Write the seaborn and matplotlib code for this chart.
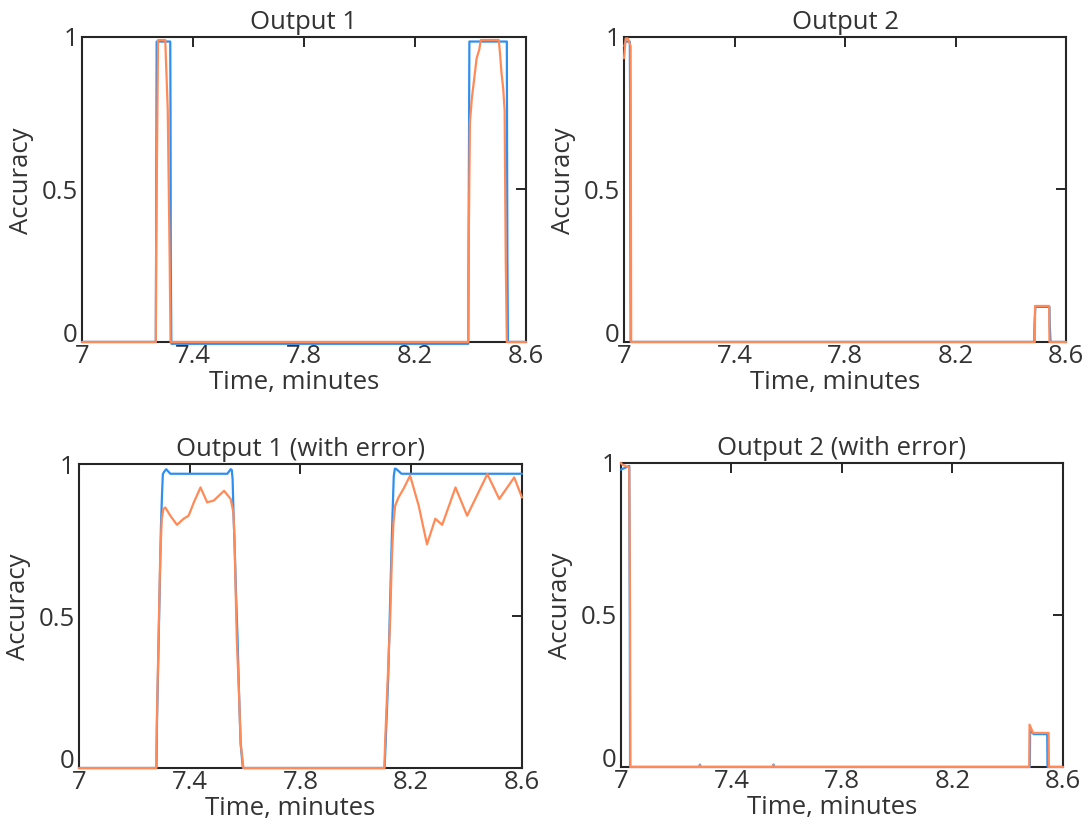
import numpy as np
import pandas as pd
import matplotlib
matplotlib.use("Agg")
import matplotlib.pyplot as plt
import seaborn as sns

# ---------------- data ----------------
titles = ["Output 1", "Output 2", "Output 1 (with error)", "Output 2 (with error)"]
xticks = [7, 7.4, 7.8, 8.2, 8.6]
xticklabels = ["7", "7.4", "7.8", "8.2", "8.6"]
yticks = [0, 0.5, 1]
yticklabels = ["0", "0.5", "1"]
xlabel = "Time, minutes"
ylabel = "Accuracy"

# Panel 1: Output 1
p1_blue_t = [7.000, 7.266, 7.267, 7.269, 7.318, 7.319, 7.320, 7.322, 8.392, 8.393, 8.396,
             8.531, 8.532, 8.533, 8.535, 8.600]
p1_blue_y = [0.000, 0.000, 0.280, 0.985, 0.985, 0.760, 0.270, -0.006, -0.006, 0.270, 0.985,
             0.985, 0.590, 0.270, 0.000, 0.000]
p1_orange_t = [7.000, 7.266, 7.267, 7.274, 7.300, 7.309, 7.316, 7.319, 8.392, 8.393, 8.398,
               8.405, 8.413, 8.422, 8.432, 8.437, 8.502, 8.506, 8.512, 8.518, 8.523, 8.527,
               8.531, 8.600]
p1_orange_y = [0.000, 0.000, 0.280, 0.990, 0.990, 0.760, 0.270, 0.000, 0.000, 0.270, 0.720,
               0.800, 0.860, 0.930, 0.960, 0.990, 0.990, 0.950, 0.880, 0.830, 0.760, 0.270,
               0.000, 0.000]

# Panel 2: Output 2
p2_blue_t = [7.000, 7.006, 7.021, 7.022, 7.024, 8.485, 8.486, 8.489, 8.540, 8.541, 8.544, 8.600]
p2_blue_y = [0.970, 0.985, 0.985, 0.820, 0.000, 0.000, 0.060, 0.115, 0.115, 0.055, 0.000, 0.000]
p2_orange_t = [7.000, 7.006, 7.014, 7.024, 7.026, 8.487, 8.488, 8.539, 8.540, 8.600]
p2_orange_y = [0.930, 0.995, 0.995, 0.970, 0.000, 0.000, 0.118, 0.118, 0.000, 0.000]

# Panel 3: Output 1 (with error)
p3_blue_t = [7.000, 7.280, 7.282, 7.289, 7.296, 7.300, 7.303, 7.308, 7.315, 7.330, 7.536,
             7.548, 7.552, 7.555, 7.558, 7.562, 7.567, 7.573, 7.578, 7.584, 7.592, 8.104,
             8.108, 8.117, 8.124, 8.128, 8.132, 8.137, 8.141, 8.147, 8.165, 8.600]
p3_blue_y = [0.000, 0.000, 0.160, 0.470, 0.790, 0.900, 0.967, 0.975, 0.983, 0.968, 0.968,
             0.983, 0.980, 0.950, 0.845, 0.740, 0.580, 0.420, 0.250, 0.080, 0.000, 0.000,
             0.090, 0.300, 0.550, 0.690, 0.820, 0.960, 0.985, 0.983, 0.968, 0.968]
p3_orange_t = [7.000, 7.279, 7.281, 7.287, 7.293, 7.299, 7.305, 7.312, 7.330, 7.354, 7.378,
               7.396, 7.415, 7.439, 7.463, 7.487, 7.524, 7.548, 7.558, 7.562, 7.570, 7.578,
               7.584, 7.594, 8.103, 8.106, 8.115, 8.124, 8.130, 8.136, 8.142, 8.154, 8.172,
               8.196, 8.227, 8.257, 8.287, 8.312, 8.360, 8.402, 8.475, 8.518, 8.572, 8.600]
p3_orange_y = [0.000, 0.000, 0.137, 0.410, 0.676, 0.819, 0.852, 0.857, 0.830, 0.800, 0.820,
               0.830, 0.874, 0.923, 0.874, 0.880, 0.912, 0.885, 0.840, 0.742, 0.423, 0.247,
               0.082, 0.000, 0.000, 0.090, 0.290, 0.490, 0.687, 0.808, 0.863, 0.890, 0.918,
               0.962, 0.863, 0.736, 0.820, 0.800, 0.923, 0.830, 0.967, 0.885, 0.956, 0.890]

# Panel 4: Output 2 (with error)
p4_blue_t = [7.000, 7.030, 7.032, 7.033, 7.284, 7.286, 7.288, 7.550, 7.552, 7.554, 8.480,
             8.481, 8.494, 8.543, 8.544, 8.600]
p4_blue_y = [0.978, 0.990, 0.500, 0.000, 0.000, 0.008, 0.000, 0.000, 0.008, 0.000, 0.000,
             0.120, 0.108, 0.108, 0.000, 0.000]
p4_orange_t = [7.000, 7.004, 7.030, 7.033, 7.034, 7.283, 7.285, 7.288, 7.548, 7.551, 7.555,
               8.478, 8.479, 8.492, 8.548, 8.549, 8.600]
p4_orange_y = [1.000, 0.995, 0.985, 0.500, 0.000, 0.000, 0.006, 0.000, 0.000, 0.006, 0.000,
               0.000, 0.139, 0.112, 0.112, 0.000, 0.000]

panels = [
    (p1_blue_t, p1_blue_y, p1_orange_t, p1_orange_y),
    (p2_blue_t, p2_blue_y, p2_orange_t, p2_orange_y),
    (p3_blue_t, p3_blue_y, p3_orange_t, p3_orange_y),
    (p4_blue_t, p4_blue_y, p4_orange_t, p4_orange_y),
]

BLUE = "#2f8ff0"
ORANGE = "#ff8a57"
TXT = "#333333"
SPINE = "#262626"

# ---------------- style ----------------
sns.set_style("white")
plt.rcParams["font.family"] = ["Open Sans", "DejaVu Sans"]
plt.rcParams.update({
    "xtick.direction": "in", "ytick.direction": "in",
    "xtick.top": True, "ytick.right": True,
    "xtick.major.size": 7.5, "ytick.major.size": 7.5,
    "xtick.major.width": 1.4, "ytick.major.width": 1.4,
    "xtick.color": SPINE, "ytick.color": SPINE,
    "xtick.labelcolor": TXT, "ytick.labelcolor": TXT,
    "axes.edgecolor": SPINE, "axes.linewidth": 1.5,
    "text.color": TXT, "axes.labelcolor": TXT,
})

fig = plt.figure(figsize=(10.89, 8.27), dpi=100)
positions = [
    [0.0753, 0.5865, 0.4077, 0.3688],
    [0.5730, 0.5865, 0.4059, 0.3688],
    [0.0725, 0.0713, 0.4068, 0.3676],
    [0.5702, 0.0726, 0.4059, 0.3676],
]

FS = 18.5
for i, (pos, (bt, by, ot, oy)) in enumerate(zip(positions, panels)):
    ax = fig.add_axes(pos)
    df = pd.concat([
        pd.DataFrame({"t": bt, "y": by, "series": "ideal"}),
        pd.DataFrame({"t": ot, "y": oy, "series": "estimate"}),
    ], ignore_index=True)
    sns.lineplot(data=df, x="t", y="y", hue="series",
                 palette={"ideal": BLUE, "estimate": ORANGE},
                 estimator=None, sort=False, legend=False, ax=ax,
                 linewidth=1.6, zorder=3, clip_on=False)
    ax.set_xlim(7, 8.6)
    ax.set_ylim(0, 1)
    ax.set_xticks(xticks)
    ax.set_xticklabels(xticklabels, fontsize=FS)
    ax.set_yticks(yticks)
    ax.set_yticklabels(yticklabels, fontsize=FS)
    ax.tick_params(axis="x", pad=1.5)
    ax.tick_params(axis="y", pad=3)
    ax.get_yticklabels()[0].set_verticalalignment("baseline")
    ax.set_title(titles[i], fontsize=FS, pad=6, color=TXT)
    ax.set_xlabel(xlabel, fontsize=FS)
    ax.set_ylabel(ylabel, fontsize=FS)
    ax.xaxis.set_label_coords(0.477, -0.092)
    ax.yaxis.set_label_coords(-0.108, 0.53)
    for s in ax.spines.values():
        s.set_visible(True)
        s.set_color(SPINE)
        s.set_linewidth(1.5)

fig.savefig("out.png", dpi=100)
